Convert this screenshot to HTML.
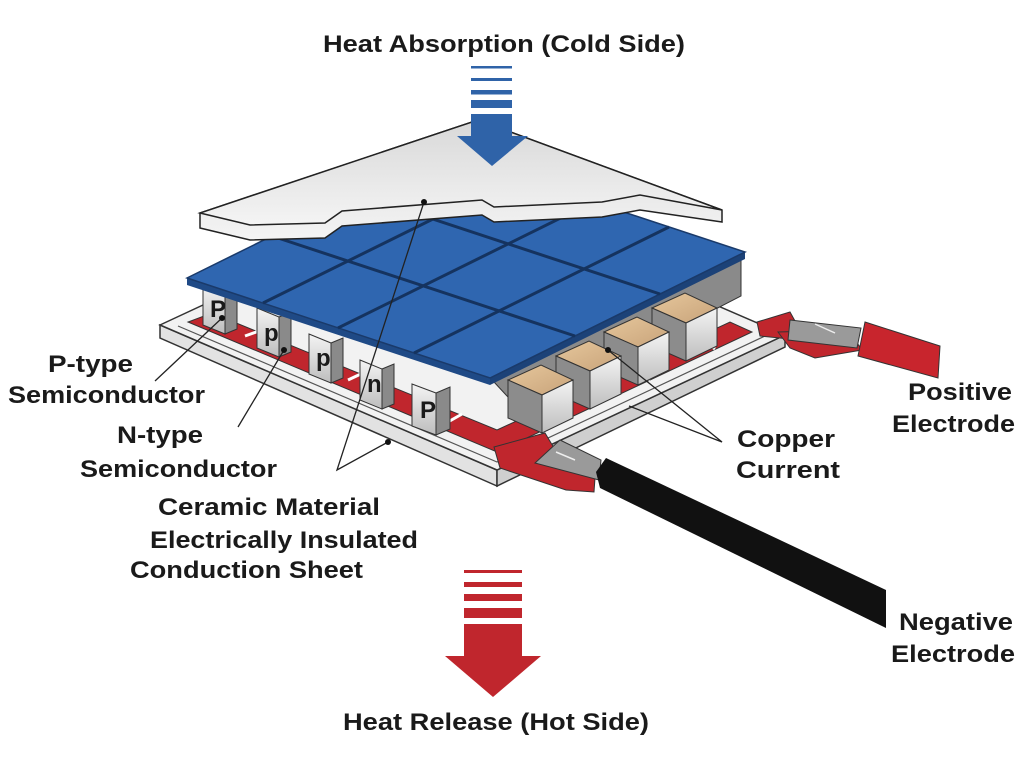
<!DOCTYPE html>
<html><head><meta charset="utf-8"><style>
html,body{margin:0;padding:0;background:#fff;}
svg{display:block;}
text{font-family:"Liberation Sans",sans-serif;font-weight:bold;fill:#1a1a1a;font-size:24px;}
</style></head><body>
<svg width="1024" height="770" viewBox="0 0 1024 770" xmlns="http://www.w3.org/2000/svg">
<defs>
<linearGradient id="plate" x1="0" y1="0" x2="0" y2="1"><stop offset="0" stop-color="#d8d8d8"/><stop offset="1" stop-color="#f4f4f4"/></linearGradient>
<linearGradient id="leg" x1="0" y1="0" x2="0" y2="1"><stop offset="0" stop-color="#f4f4f4"/><stop offset="1" stop-color="#bdbdbd"/></linearGradient>
<linearGradient id="tan" x1="0" y1="0" x2="1" y2="1"><stop offset="0" stop-color="#e6c79c"/><stop offset="1" stop-color="#c8a37a"/></linearGradient>
</defs>

<!-- ceramic base -->
<polygon points="160,325 497,470 497,486 160,338" fill="#e2e2e2" stroke="#333" stroke-width="1.5"/>
<polygon points="497,470 785,335 785,347 497,486" fill="#cfcfcf" stroke="#333" stroke-width="1.5"/>
<polygon points="160,325 450,190 785,335 497,470" fill="#f2f2f2" stroke="#333" stroke-width="1.5"/>
<polyline points="178,326 497,462 765,336" fill="none" stroke="#555" stroke-width="1.2"/>
<polygon points="188,322 497,452 752,332 730,322 497,430 212,313" fill="#c0262d" stroke="#333" stroke-width="1"/>
<g stroke="#fff" stroke-width="3">
<line x1="245" y1="336" x2="262" y2="330"/><line x1="348" y1="380" x2="365" y2="372"/><line x1="448" y1="422" x2="462" y2="414"/>
<line x1="555" y1="425" x2="540" y2="412"/><line x1="650" y1="380" x2="635" y2="368"/><line x1="715" y1="349" x2="700" y2="338"/>
</g>

<polygon points="494,382 741,256 741,296 520,410" fill="#8a8a8a" stroke="#333" stroke-width="1"/>

<g stroke="#333" stroke-width="1">
<polygon points="203,285 225,294 225,334 203,325" fill="url(#leg)"/><polygon points="225,294 237,289 237,329 225,334" fill="#8a8a8a"/>
<polygon points="257,308 279,317 279,357 257,348" fill="url(#leg)"/><polygon points="279,317 291,312 291,352 279,357" fill="#8a8a8a"/>
<polygon points="309,334 331,343 331,383 309,374" fill="url(#leg)"/><polygon points="331,343 343,338 343,378 331,383" fill="#8a8a8a"/>
<polygon points="360,360 382,369 382,409 360,400" fill="url(#leg)"/><polygon points="382,369 394,364 394,404 382,409" fill="#8a8a8a"/>
<polygon points="412,384 436,393 436,435 412,426" fill="url(#leg)"/><polygon points="436,393 450,387 450,429 436,435" fill="#8a8a8a"/>
</g>
<g style="font-size:11px">
<text x="210" y="317">P</text><text x="264" y="341">p</text><text x="316" y="366">p</text><text x="367" y="392">n</text><text x="420" y="418">P</text>
</g>

<!-- blue layer -->
<polygon points="187,278 490,378 490,385 187,285" fill="#1f4a86"/>
<polygon points="490,378 745,252 745,259 490,385" fill="#1c4278"/>
<polygon points="187,278 442,152 745,252 490,378" fill="#2f66b0" stroke="#1a3a6a" stroke-width="1.5"/>
<g stroke="#15335f" stroke-width="3">
<line x1="263" y1="303" x2="518" y2="177"/>
<line x1="338" y1="328" x2="593" y2="202"/>
<line x1="414" y1="353" x2="669" y2="227"/>
<line x1="272" y1="236" x2="575" y2="336"/>
<line x1="357" y1="194" x2="660" y2="294"/>
</g>

<g stroke="#333" stroke-width="1">
<polygon points="652,308 685,293 717,308 686,323" fill="url(#tan)"/><polygon points="652,308 686,323 686,361 652,346" fill="#8c8c8c"/><polygon points="686,323 717,308 717,346 686,361" fill="url(#leg)"/>
<polygon points="604,332 637,317 669,332 638,347" fill="url(#tan)"/><polygon points="604,332 638,347 638,385 604,370" fill="#8c8c8c"/><polygon points="638,347 669,332 669,370 638,385" fill="url(#leg)"/>
<polygon points="556,356 589,341 621,356 590,371" fill="url(#tan)"/><polygon points="556,356 590,371 590,409 556,394" fill="#8c8c8c"/><polygon points="590,371 621,356 621,394 590,409" fill="url(#leg)"/>
<polygon points="508,380 541,365 573,380 542,395" fill="url(#tan)"/><polygon points="508,380 542,395 542,433 508,418" fill="#8c8c8c"/><polygon points="542,395 573,380 573,418 542,433" fill="url(#leg)"/>
</g>

<!-- top plate -->
<polygon points="200,213 200,228 250,240 325,238 342,226 482,215 494,222 602,217 640,210 722,222 722,210 478,120" fill="url(#plate)" stroke="#222" stroke-width="1.5"/>
<polygon points="200,213 250,225 325,223 342,211 482,200 494,207 602,202 640,195 722,210 478,120" fill="url(#plate)" stroke="#222" stroke-width="1.5"/>

<g fill="#2f63a8">
<rect x="471" y="66" width="41" height="2.5"/><rect x="471" y="78" width="41" height="3"/><rect x="471" y="90" width="41" height="4.5"/><rect x="471" y="100" width="41" height="8"/>
<rect x="471" y="114" width="41" height="24"/><polygon points="457,136 528,136 492,166"/>
</g>

<g fill="#c0262d">
<rect x="464" y="570" width="58" height="3"/><rect x="464" y="582" width="58" height="5"/><rect x="464" y="594" width="58" height="7"/><rect x="464" y="608" width="58" height="10"/>
<rect x="464" y="624" width="58" height="34"/><polygon points="445,656 541,656 493,697"/>
</g>

<!-- positive electrode -->
<polygon points="757,322 790,312 800,330 800,340 760,336" fill="#c0262d" stroke="#333" stroke-width="1"/>
<polygon points="778,332 848,330 862,350 815,358 790,348" fill="#c0262d" stroke="#333" stroke-width="1"/>
<polygon points="865,322 940,346 938,378 858,356" fill="#c8252d" stroke="#333" stroke-width="1"/>
<polygon points="790,320 861,328 857,348 788,340" fill="#9a9a9a" stroke="#333" stroke-width="1"/>
<line x1="815" y1="324" x2="835" y2="333" stroke="#eee" stroke-width="1.5"/>

<!-- negative electrode -->
<polygon points="494,447 545,433 560,458 595,478 594,492 566,490 500,468" fill="#c0262d" stroke="#333" stroke-width="1"/>
<polygon points="560,440 601,460 599,480 535,463" fill="#9a9a9a" stroke="#333" stroke-width="1"/>
<line x1="556" y1="452" x2="575" y2="460" stroke="#eee" stroke-width="1.5"/>
<polygon points="606,458 886,590 886,628 600,488 596,472" fill="#111"/>

<g stroke="#222" stroke-width="1.3" fill="none">
<line x1="155" y1="381" x2="222" y2="318"/>
<line x1="238" y1="427" x2="284" y2="350"/>
<polyline points="424,202 337,470 388,442"/>
<polyline points="608,350 722,442 629,406"/>
</g>
<g fill="#111">
<circle cx="222" cy="318" r="3"/><circle cx="284" cy="350" r="3"/><circle cx="424" cy="202" r="3"/><circle cx="388" cy="442" r="3"/><circle cx="608" cy="350" r="3"/>
</g>

<text x="323" y="52" textLength="362" lengthAdjust="spacingAndGlyphs">Heat Absorption (Cold Side)</text>
<text x="48" y="372" textLength="85" lengthAdjust="spacingAndGlyphs">P-type</text>
<text x="8" y="403" textLength="197" lengthAdjust="spacingAndGlyphs">Semiconductor</text>
<text x="117" y="443" textLength="86" lengthAdjust="spacingAndGlyphs">N-type</text>
<text x="80" y="477" textLength="197" lengthAdjust="spacingAndGlyphs">Semiconductor</text>
<text x="158" y="515" textLength="222" lengthAdjust="spacingAndGlyphs">Ceramic Material</text>
<text x="150" y="548" textLength="268" lengthAdjust="spacingAndGlyphs">Electrically Insulated</text>
<text x="130" y="578" textLength="233" lengthAdjust="spacingAndGlyphs">Conduction Sheet</text>
<text x="737" y="447" textLength="98" lengthAdjust="spacingAndGlyphs">Copper</text>
<text x="736" y="478" textLength="104" lengthAdjust="spacingAndGlyphs">Current</text>
<text x="908" y="400" textLength="104" lengthAdjust="spacingAndGlyphs">Positive</text>
<text x="892" y="432" textLength="123" lengthAdjust="spacingAndGlyphs">Electrode</text>
<text x="899" y="630" textLength="114" lengthAdjust="spacingAndGlyphs">Negative</text>
<text x="891" y="662" textLength="124" lengthAdjust="spacingAndGlyphs">Electrode</text>
<text x="343" y="730" textLength="306" lengthAdjust="spacingAndGlyphs">Heat Release (Hot Side)</text>
</svg>
</body></html>
